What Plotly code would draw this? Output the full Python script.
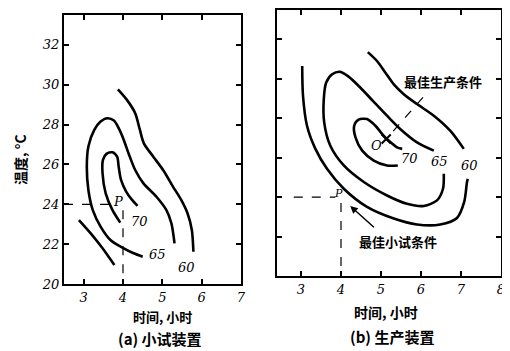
import plotly.graph_objects as go

# ---------------- data ----------------
# Panel (a): pilot plant contours (time h, temperature °C)
a60_x = [3.87, 4.10, 4.31, 4.43, 4.53, 4.77, 5.02, 5.27, 5.48, 5.64, 5.75, 5.79]
a60_y = [29.77, 29.24, 28.57, 27.73, 27.06, 26.39, 25.72, 24.89, 24.22, 23.55, 22.71, 21.62]
a60b_x = [2.88, 3.18, 3.48, 3.78]
a60b_y = [23.21, 22.54, 21.79, 20.95]
a65_x = [4.50, 4.27, 4.02, 3.68, 3.43, 3.23, 3.12, 3.08, 3.12, 3.27, 3.43, 3.60, 3.77, 3.89, 4.02, 4.14, 4.31, 4.52, 4.85, 5.10, 5.23, 5.31]
a65_y = [21.37, 21.54, 21.79, 22.21, 22.88, 23.72, 24.72, 25.89, 26.90, 27.73, 28.15, 28.32, 28.20, 27.82, 27.23, 26.56, 25.72, 25.05, 24.38, 23.72, 23.05, 22.04]
a70_x = [3.93, 3.73, 3.56, 3.48, 3.49, 3.58, 3.73, 3.85, 3.89, 3.95, 4.08, 4.23, 4.37]
a70_y = [23.08, 23.72, 24.55, 25.56, 26.23, 26.53, 26.61, 26.39, 25.89, 25.22, 24.64, 24.22, 23.92]
a_labels = ["70", "65", "60"]
a_label_x = [4.42, 4.87, 5.62]
a_label_y = [23.15, 21.5, 20.85]
a_P = (3.88, 24.15)

# Panel (b): production plant contours
b60_x = [4.67, 4.90, 5.11, 5.32, 5.57, 5.90, 6.32, 6.73, 7.07]
b60_y = [31.34, 30.89, 30.30, 29.71, 29.21, 28.71, 28.12, 27.36, 26.44]
b60b_x = [3.03, 3.05, 3.15, 3.36, 3.65, 4.07, 4.65, 5.32, 5.90, 6.48, 6.90, 7.08, 7.15, 7.17]
b60b_y = [30.64, 29.13, 27.61, 26.44, 25.43, 24.42, 23.50, 22.91, 22.61, 22.61, 22.94, 23.75, 24.76, 24.92]
b65_x = [6.57, 6.55, 6.40, 6.07, 5.65, 5.15, 4.57, 4.07, 3.73, 3.58, 3.57, 3.63, 3.78, 3.98, 4.19, 4.48, 4.82, 5.15, 5.48, 5.90, 6.32]
b65_y = [25.18, 24.42, 23.83, 23.55, 23.66, 24.08, 24.76, 25.60, 26.61, 27.78, 28.96, 29.80, 30.22, 30.34, 30.10, 29.55, 28.82, 28.12, 27.45, 26.77, 26.35]
b70_x = [5.42, 5.15, 4.82, 4.53, 4.36, 4.33, 4.44, 4.65, 4.86, 5.03, 5.19, 5.40, 5.53]
b70_y = [25.60, 25.60, 25.85, 26.35, 27.03, 27.61, 27.92, 27.95, 27.61, 27.19, 26.86, 26.52, 26.44]
b_labels = ["70", "65", "60"]
b_label_x = [5.70, 6.47, 7.22]
b_label_y = [25.95, 25.78, 25.6]
b_O = (5.13, 26.94)
b_P = (3.94, 24.05)

x_ticks_a = [3, 4, 5, 6, 7]
x_ticks_b = [3, 4, 5, 6, 7, 8]
y_ticks = [20, 22, 24, 26, 28, 30, 32]

# ---------------- figure ----------------
W, H = 510, 351
OFF = 8  # page body margin in the browser


def px(v):
    return (v - OFF) / W


def py(v):
    return 1 - (v - OFF) / H


fig = go.Figure()
LW = 2.6
BLK = "black"


def line(x, y, xa, ya, dash=None, w=LW):
    fig.add_trace(go.Scatter(x=x, y=y, mode="lines", xaxis=xa, yaxis=ya,
                             line=dict(color=BLK, width=w, dash=dash, shape="spline", smoothing=0.8),
                             hoverinfo="skip", showlegend=False))


for xs, ys in [(a60_x, a60_y), (a60b_x, a60b_y), (a65_x, a65_y), (a70_x, a70_y)]:
    line(xs, ys, "x", "y")
for xs, ys in [(b60_x, b60_y), (b60b_x, b60b_y), (b65_x, b65_y), (b70_x, b70_y)]:
    line(xs, ys, "x2", "y2")

# dashed guide lines to P
line([2.5, a_P[0] - 0.1], [24, 24], "x", "y", dash="dash", w=1.2)
line([4, 4], [23.7, 20], "x", "y", dash="dash", w=1.2)
line([2.82, b_P[0] - 0.08], [24, 24], "x2", "y2", dash="dash", w=1.2)
line([4, 4], [23.7, 20], "x2", "y2", dash="dash", w=1.2)
# leader from label to optimum O
line([6.05, b_O[0]], [29.05, b_O[1]], "x2", "y2", dash="dash", w=1.2)
fig.add_trace(go.Scatter(x=[b_O[0]], y=[b_O[1]], mode="markers", xaxis="x2", yaxis="y2",
                         marker=dict(symbol="x-thin", size=9, line=dict(color=BLK, width=2)),
                         hoverinfo="skip", showlegend=False))

num_font = dict(family="DejaVu Serif", size=13, color=BLK, style="italic")
cjk = "Noto Sans CJK SC"

ann = []
for t, x, y in zip(a_labels, a_label_x, a_label_y):
    ann.append(dict(x=x, y=y, xref="x", yref="y", text=t, showarrow=False, font=num_font))
for t, x, y in zip(b_labels, b_label_x, b_label_y):
    ann.append(dict(x=x, y=y, xref="x2", yref="y2", text=t, showarrow=False, font=num_font))
ann.append(dict(x=a_P[0], y=a_P[1], xref="x", yref="y", text="P", showarrow=False, font=num_font))
ann.append(dict(x=b_P[0], y=b_P[1] + 0.15, xref="x2", yref="y2", text="P", showarrow=False,
                font=dict(family="DejaVu Serif", size=11, color=BLK, style="italic")))
ann.append(dict(x=4.88, y=26.6, xref="x2", yref="y2", text="O", showarrow=False, font=num_font))
ann.append(dict(x=6.55, y=29.85, xref="x2", yref="y2", text="<b>最佳生产条件</b>", showarrow=False,
                font=dict(family=cjk, size=13, color=BLK)))
ann.append(dict(x=5.42, y=21.75, xref="x2", yref="y2", text="<b>最佳小试条件</b>", showarrow=False,
                font=dict(family=cjk, size=13, color=BLK)))
ann.append(dict(x=4.23, y=23.55, ax=4.86, ay=22.4, xref="x2", yref="y2", axref="x2", ayref="y2",
                text="", showarrow=True, arrowhead=2, arrowsize=1, arrowwidth=1.5, arrowcolor=BLK))
# axis titles and captions (paper coords, explicit anchors)
paper_txt = [
    ("<b>时间, 小时</b>", 162, 316, 13, 0),
    ("<b>时间, 小时</b>", 386, 312, 14, 0),
    ("<b>(a) 小试装置</b>", 160, 338, 15, 0),
    ("<b>(b) 生产装置</b>", 392, 336, 15, 0),
    ("<b>温度, °C</b>", 20, 160, 14, -90),
]
for t, x, y, s, ang in paper_txt:
    ann.append(dict(x=px(x), y=py(y), xref="paper", yref="paper", text=t, textangle=ang,
                    xanchor="center", yanchor="middle", showarrow=False,
                    font=dict(family=cjk, size=s, color=BLK)))
fig.update_layout(annotations=ann)

axcommon = dict(showgrid=False, zeroline=False, showline=True, linecolor=BLK, linewidth=2,
                mirror="ticks", ticks="inside", ticklen=5, tickwidth=2, tickcolor=BLK,
                tickfont=num_font, automargin=False)

fig.update_layout(
    width=W, height=H, margin=dict(l=0, r=0, t=0, b=0, autoexpand=False),
    paper_bgcolor="white", plot_bgcolor="white",
    xaxis=dict(domain=[px(64), px(241)], range=[2.5, 7], tickvals=x_ticks_a,
               anchor="y", **axcommon),
    yaxis=dict(domain=[py(284), py(15)], range=[20, 33.5], tickvals=y_ticks,
               anchor="x", **axcommon),
    xaxis2=dict(domain=[px(277), px(501)], range=[2.4, 8], tickvals=x_ticks_b,
                anchor="y2", **axcommon),
    yaxis2=dict(domain=[py(276), min(1.0, py(7)) - 1.5 / H], range=[20, 33.5], tickvals=y_ticks[1:],
                showticklabels=False, anchor="x2", **axcommon),
)

fig.write_html("out.html")
